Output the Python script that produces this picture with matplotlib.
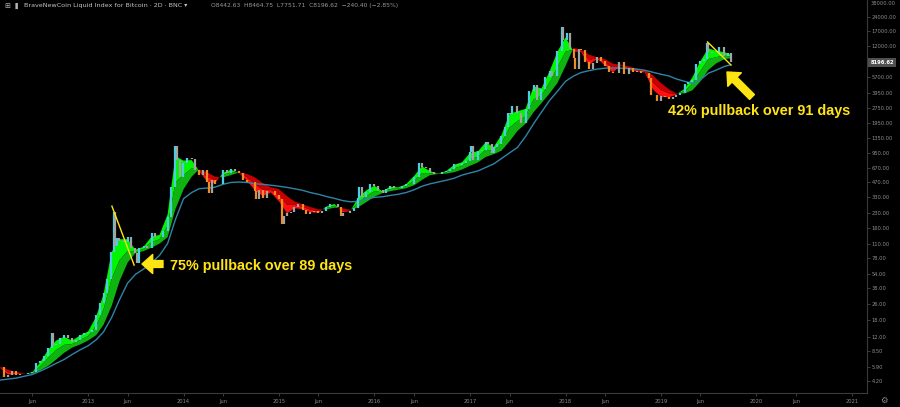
import numpy as np
import pandas as pd
import matplotlib
matplotlib.use("Agg")
import matplotlib.pyplot as plt
from matplotlib.ticker import NullLocator

# 2D closes, roughly two per month, read off the log scale
candle_dates = [
    "2012-01-30", "2012-02-14", "2012-03-01", "2012-03-15", "2012-04-01", "2012-04-15",
    "2012-05-01", "2012-05-15", "2012-06-01", "2012-06-15", "2012-07-01", "2012-07-15",
    "2012-08-01", "2012-08-15", "2012-08-20", "2012-09-01", "2012-09-15", "2012-10-01",
    "2012-10-15", "2012-11-01", "2012-11-15", "2012-12-01", "2012-12-15",
    "2013-01-01", "2013-01-15", "2013-02-01", "2013-02-15", "2013-03-01", "2013-03-15",
    "2013-03-29", "2013-04-09", "2013-04-13", "2013-04-20", "2013-05-01", "2013-05-15",
    "2013-06-01", "2013-06-15", "2013-07-01", "2013-07-06", "2013-07-15", "2013-08-01",
    "2013-08-15", "2013-09-01", "2013-09-15", "2013-10-01", "2013-10-15", "2013-11-01",
    "2013-11-15", "2013-11-30", "2013-12-07", "2013-12-18", "2013-12-31",
    "2014-01-15", "2014-02-01", "2014-02-15", "2014-03-01", "2014-03-15", "2014-04-01",
    "2014-04-10", "2014-04-20", "2014-05-01", "2014-05-15", "2014-06-01", "2014-06-15",
    "2014-07-01", "2014-07-15", "2014-08-01", "2014-08-15", "2014-09-01", "2014-09-15",
    "2014-10-01", "2014-10-05", "2014-10-15", "2014-11-01", "2014-11-15", "2014-12-01",
    "2014-12-15", "2014-12-31",
    "2015-01-14", "2015-01-20", "2015-02-01", "2015-02-15", "2015-03-01", "2015-03-15",
    "2015-04-01", "2015-04-15", "2015-05-01", "2015-05-15", "2015-06-01", "2015-06-15",
    "2015-07-01", "2015-07-15", "2015-08-01", "2015-08-15", "2015-08-25", "2015-09-01",
    "2015-09-15", "2015-10-01", "2015-10-15", "2015-11-01", "2015-11-04", "2015-11-15",
    "2015-12-01", "2015-12-15", "2015-12-31",
    "2016-01-15", "2016-02-01", "2016-02-15", "2016-03-01", "2016-03-15", "2016-04-01",
    "2016-04-15", "2016-05-01", "2016-05-15", "2016-06-01", "2016-06-18", "2016-07-01",
    "2016-07-15", "2016-08-01", "2016-08-15", "2016-09-01", "2016-09-15", "2016-10-01",
    "2016-10-15", "2016-11-01", "2016-11-15", "2016-12-01", "2016-12-15", "2016-12-31",
    "2017-01-04", "2017-01-12", "2017-02-01", "2017-02-15", "2017-03-01", "2017-03-10",
    "2017-03-24", "2017-04-01", "2017-04-15", "2017-05-01", "2017-05-15", "2017-05-25",
    "2017-06-01", "2017-06-12", "2017-07-01", "2017-07-16", "2017-08-01", "2017-08-15",
    "2017-09-01", "2017-09-15", "2017-10-01", "2017-10-15", "2017-11-01", "2017-11-12",
    "2017-12-01", "2017-12-17", "2017-12-22", "2017-12-31",
    "2018-01-07", "2018-01-17", "2018-02-01", "2018-02-06", "2018-02-20", "2018-03-01",
    "2018-03-15", "2018-04-01", "2018-04-15", "2018-05-01", "2018-05-15", "2018-06-01",
    "2018-06-15", "2018-07-01", "2018-07-24", "2018-08-14", "2018-09-01", "2018-09-15",
    "2018-10-01", "2018-10-15", "2018-11-01", "2018-11-15", "2018-11-25", "2018-12-15",
    "2018-12-31",
    "2019-01-15", "2019-02-01", "2019-02-15", "2019-03-01", "2019-03-15", "2019-04-03",
    "2019-04-15", "2019-05-01", "2019-05-15", "2019-06-01", "2019-06-15", "2019-06-26",
    "2019-07-01", "2019-07-15", "2019-08-01", "2019-08-10", "2019-08-29", "2019-09-15",
    "2019-09-24",
]
candle_close = [
    5.8, 4.6, 4.9, 5.3, 4.9, 4.95,
    5.0, 5.05, 5.2, 6.4, 6.7, 7.6,
    9.2, 13.2, 9.8, 10.1, 11.8, 12.4,
    11.8, 10.6, 11.1, 12.5, 13.3,
    13.4, 14.2, 20.4, 27, 34, 47,
    90, 235, 105, 125, 116, 115,
    128, 100, 88, 70, 98, 104,
    100, 140, 130, 128, 150, 205,
    420, 1120, 800, 540, 750,
    850, 830, 630, 560, 630, 470,
    370, 500, 450, 450, 630, 590,
    640, 620, 590, 500, 480, 475,
    385, 320, 395, 325, 380, 380,
    350, 320,
    175, 210, 225, 235, 260, 285,
    245, 220, 235, 237, 225, 237,
    260, 285, 280, 265, 210, 230,
    230, 237, 255, 325, 420, 330,
    375, 455, 430,
    390, 370, 405, 435, 415, 417,
    430, 450, 455, 535, 750, 675,
    665, 605, 570, 575, 610, 615,
    640, 730, 710, 750, 780, 960,
    1130, 800, 990, 1010, 1220, 1180,
    940, 1080, 1180, 1420, 1750, 2450,
    2400, 2900, 2450, 1950, 2720, 4100,
    4750, 3300, 4350, 5700, 6700, 5900,
    10800, 19100, 14000, 13800,
    16500, 11200, 9100, 7000, 11200, 10900,
    8300, 6900, 8000, 9200, 8500, 7500,
    6500, 6400, 8200, 6200, 7200, 6500,
    6600, 6400, 6350, 5600, 3800, 3250,
    3700,
    3600, 3450, 3600, 3800, 3900, 4900,
    5100, 5400, 7900, 8500, 8900, 12800,
    10500, 10300, 10300, 11800, 9500, 10300,
    8196.62,
]

# monthly readings of the ribbon edges and the long blue average
ma_dates = list(pd.date_range("2012-02-01", "2019-09-01", freq="MS").strftime("%Y-%m-%d")) + ["2019-09-24"]
ma_fast = [
    5.7, 4.9, 4.95, 5.0, 5.15, 6.5, 8.8, 11.0, 12.0, 11.0, 12.4,
    13.6, 19.5, 33, 90, 122, 122, 95, 102, 130, 135, 220, 880,
    790, 800, 620, 480, 460, 590, 635, 590, 490, 390, 340, 370,
    300, 225, 255, 250, 232, 228, 265, 282, 232, 238, 330, 390,
    435, 380, 425, 418, 450, 550, 690, 615, 580, 615, 715, 760,
    950, 990, 1220, 1090, 1450, 2400, 2550, 2700, 4600, 4400, 6600, 10500,
    14800, 10500, 10500, 7600, 8900, 7600, 6400, 7600, 6800, 6600, 6400, 4300,
    3600, 3550, 3800, 4350, 5700, 8400, 11400, 10700, 10400,
    9800,
]
ma_slow = [
    5.9, 5.5, 5.2, 5.05, 5.0, 5.4, 6.0, 7.0, 8.2, 9.3, 10.0,
    11.0, 12.5, 16, 25, 45, 70, 88, 92, 100, 110, 128, 250,
    400, 540, 640, 600, 540, 530, 560, 595, 575, 530, 460, 420,
    400, 340, 300, 280, 262, 248, 248, 258, 255, 245, 262, 295,
    335, 365, 382, 395, 410, 440, 500, 560, 575, 580, 600, 640,
    700, 760, 860, 920, 1000, 1250, 1600, 1900, 2500, 3100, 3900, 5000,
    7500, 11500, 11000, 9800, 9200, 8800, 7900, 7700, 7400, 7000, 6800, 6000,
    5000, 4300, 3900, 3900, 4200, 5200, 6800, 8000, 8800,
    9000,
]
ma_long = [
    4.3, 4.4, 4.5, 4.7, 4.9, 5.3, 5.8, 6.4, 7.0, 7.9, 8.8,
    9.7, 11.2, 13.5, 19, 29, 43, 53, 60, 70, 83, 110, 195,
    320, 370, 405, 412, 420, 450, 470, 475, 470, 455, 450, 440,
    430, 418, 405, 390, 370, 355, 337, 322, 306, 297, 300, 318,
    330, 335, 345, 355, 370, 395, 430, 455, 475, 495, 520, 560,
    590, 620, 670, 730, 830, 950, 1080, 1400, 1900, 2500, 3300, 4100,
    5200, 5900, 6400, 6700, 6950, 7100, 7150, 7100, 7050, 6950, 6750, 6450,
    6150, 5900, 5500, 5200, 4950, 5400, 6300, 6800, 7400,
    7700,
]

price_ticks = [4.2, 5.9, 8.5, 12, 18, 26, 38, 54, 78, 110, 160, 230, 330, 470, 670,
               950, 1350, 1950, 2750, 3950, 5700, 12000, 17000, 24000]
time_ticks = ["2012-06-01", "2013-01-01", "2013-06-01", "2014-01-01", "2014-06-01",
              "2015-01-01", "2015-06-01", "2016-01-01", "2016-06-01", "2017-01-01",
              "2017-06-01", "2018-01-01", "2018-06-01", "2019-01-01", "2019-06-01",
              "2020-01-01", "2020-06-01", "2021-01-01"]
time_labels = ["Jun", "2013", "Jun", "2014", "Jun", "2015", "Jun", "2016", "Jun", "2017",
               "Jun", "2018", "Jun", "2019", "Jun", "2020", "Jun", "2021"]

pullback_a = (["2013-04-02", "2013-06-26"], [268, 66])
pullback_b = (["2019-06-28", "2019-09-26"], [13250, 7660])

header = "BraveNewCoin Liquid Index for Bitcoin · 2D · BNC ▾"
ohlc = "O8442.63  H8464.75  L7751.71  C8196.62  −240.40 (−2.85%)"

BG = "#000000"
YELLOW = "#ffe414"
TXT = "#8d8d8d"
CYAN = "#4fcde0"
GRAY = "#a3a3a3"
ORANGE = "#f08c28"

fig = plt.figure(figsize=(9, 4.07), dpi=100, facecolor=BG)
ax = fig.add_axes([0, 1 - 393 / 407, 867 / 900, 393 / 407])
ax.set_facecolor(BG)
ax.set_yscale("log")

cd = pd.to_datetime(candle_dates)
md = pd.to_datetime(ma_dates)
close = np.array(candle_close, dtype=float)
opens = np.r_[close[0], close[:-1]]
fast = np.array(ma_fast, dtype=float)
slow = np.array(ma_slow, dtype=float)
mid = np.sqrt(fast * slow)
up = fast >= slow

# ribbon
ax.fill_between(md, fast, mid, where=up, interpolate=True, color="#00f500", lw=0, zorder=2)
ax.fill_between(md, mid, slow, where=up, interpolate=True, color="#10b410", lw=0, zorder=2)
ax.fill_between(md, fast, mid, where=~up, interpolate=True, color="#ff1010", lw=0, zorder=2)
ax.fill_between(md, mid, slow, where=~up, interpolate=True, color="#c80000", lw=0, zorder=2)

ax.plot(md, ma_long, color="#2f84a8", lw=1.0, zorder=3)

# candles, coloured by the ribbon trend
trend = np.interp(cd.values.astype("int64"), md.values.astype("int64"), fast - slow) >= 0
colors = []
for o, c, t in zip(opens, close, trend):
    if c >= o:
        colors.append(CYAN if t else GRAY)
    else:
        colors.append(GRAY if t else ORANGE)
ax.vlines(cd, np.minimum(opens, close), np.maximum(opens, close), colors=colors, lw=1.6, zorder=4)

for xs, ys in (pullback_a, pullback_b):
    ax.plot(pd.to_datetime(xs), ys, color=YELLOW, lw=1.0, zorder=5)

ax.set_xlim(pd.Timestamp("2012-01-30"), pd.Timestamp("2021-02-27"))
ax.set_ylim(3.16, 35900)

ax.yaxis.tick_right()
ax.set_yticks(price_ticks)
ax.set_yticklabels([f"{v:.2f}" for v in price_ticks])
ax.yaxis.set_minor_locator(NullLocator())
ax.set_xticks(pd.to_datetime(time_ticks))
ax.set_xticklabels(time_labels)
ax.tick_params(axis="both", colors="#555555", labelcolor=TXT, labelsize=3.7,
               length=2, width=0.5)
ax.tick_params(axis="y", pad=1.5)
ax.tick_params(axis="x", pad=2)
for s in ("top", "left"):
    ax.spines[s].set_visible(False)
for s in ("right", "bottom"):
    ax.spines[s].set_color("#3a3a3a")
    ax.spines[s].set_linewidth(0.8)

# last price badge
ax.annotate(f"{close[-1]:.2f}", xy=(1, close[-1]), xycoords=("axes fraction", "data"),
            xytext=(2.5, 0), textcoords="offset points", ha="left", va="center",
            fontsize=3.7, color="white", fontweight="bold", annotation_clip=False,
            bbox=dict(boxstyle="square,pad=0.4", fc="#4f4f4f", ec="none"))
fig.text(871 / 900, 1 - 1 / 407, "38000.00", color=TXT, fontsize=3.7, ha="left", va="top")

# annotations
arrow = dict(arrowstyle="simple,head_length=0.7,head_width=1.25,tail_width=0.45",
             fc=YELLOW, ec=YELLOW, mutation_scale=11, shrinkA=0, shrinkB=0)
ax.annotate("", xy=(142 / 867, 1 - 264 / 393), xytext=(163 / 867, 1 - 264 / 393),
            xycoords="axes fraction", arrowprops=arrow)
ax.annotate("", xy=(727 / 867, 1 - 72 / 393), xytext=(752 / 867, 1 - 97 / 393),
            xycoords="axes fraction", arrowprops=arrow)
ax.text(170 / 867, 1 - 266 / 393, "75% pullback over 89 days", transform=ax.transAxes,
        color=YELLOW, fontsize=10.4, fontweight="bold", family="Liberation Sans", va="center")
ax.text(668 / 867, 1 - 111 / 393, "42% pullback over 91 days", transform=ax.transAxes,
        color=YELLOW, fontsize=10.4, fontweight="bold", family="Liberation Sans", va="center")

# header
fig.text(4 / 900, 1 - 6 / 407, "⊞", color="#b5b5b5", fontsize=5, va="center")
fig.text(13 / 900, 1 - 6 / 407, "▐", color="#b5b5b5", fontsize=4.5, va="center")
fig.text(24 / 900, 1 - 6 / 407, header, color="#c4c4c4", fontsize=4.6, va="center")
fig.text(211 / 900, 1 - 6 / 407, ohlc, color="#9a9a9a", fontsize=4.3, va="center")
fig.text(884 / 900, 1 - 400 / 407, "⚙", color=TXT, fontsize=6, ha="center", va="center")

fig.savefig("out.png", dpi=100, facecolor=BG)
